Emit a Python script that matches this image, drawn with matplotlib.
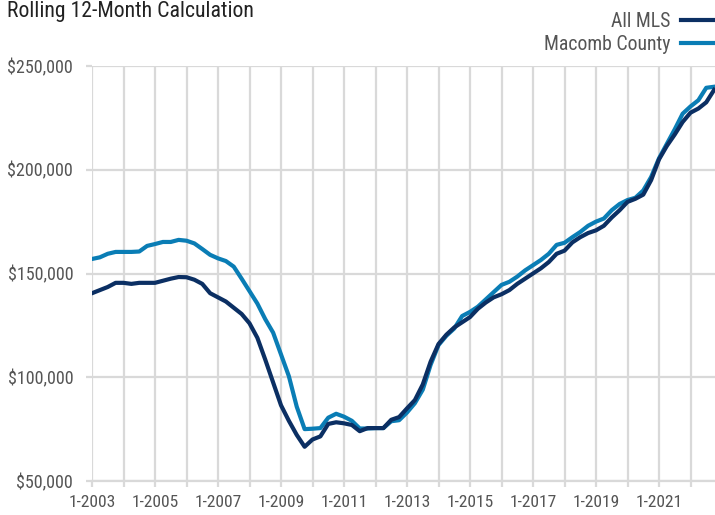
import numpy as np
import matplotlib
matplotlib.use("Agg")
from matplotlib import pyplot as plt
from matplotlib.ticker import FuncFormatter, MultipleLocator

# quarterly readings, thousands of dollars, Jan 2003 .. Oct 2022
start_year = 2003
all_mls = [
    140.5, 142, 143.5, 145.5, 145.5, 145, 145.5, 145.5,
    145.5, 146.5, 147.5, 148.3, 148.2, 147, 145, 140.5,
    138.5, 136.5, 133.5, 130.5, 126, 119, 108.5, 97.5,
    86.5, 79, 72.2, 66.5, 70, 71.5, 77.5, 78.3,
    77.8, 77, 74, 75.5, 75.5, 75.5, 79.5, 80.8,
    85, 89, 96.5, 107.5, 116, 120.5, 124, 126.5,
    129, 133, 136, 138.5, 140, 142, 145, 147.5,
    150, 152.5, 155.5, 159.5, 161, 165, 167.5, 169.5,
    170.8, 173, 177, 180.5, 184.5, 186, 188, 195,
    205, 211.5, 217, 223, 227.5, 229.5, 232.5, 238.5,
]
macomb = [
    157, 157.8, 159.5, 160.4, 160.4, 160.4, 160.6, 163.3,
    164.2, 165.2, 165.2, 166.2, 165.8, 164.5, 161.8, 159,
    157.3, 156, 153.3, 147.5, 141.5, 135.5, 128, 121.5,
    111, 100.5, 85.8, 75, 75.2, 75.5, 80.5, 82.4,
    81, 79, 75.3, 75.3, 75.5, 75.5, 78.8, 79.3,
    83, 87.5, 94, 106, 115.5, 120, 123.5, 129.5,
    131.5, 134, 137.5, 141, 144.5, 146, 148.5, 151.5,
    154, 156.5, 159.5, 163.8, 164.8, 167.5, 170, 173,
    175, 176.5, 180.5, 183.5, 185.4, 186.5, 190, 196.5,
    205.5, 212.5, 219.5, 227, 230.5, 233.5, 239.5, 240,
]
tick_years = list(range(2003, 2023))

dates = start_year + np.arange(len(all_mls)) * 0.25

plt.rcParams['font.family'] = ['Roboto Condensed', 'Roboto', 'DejaVu Sans']

fig = plt.figure(figsize=(7.15, 5.15), dpi=100)
ax = fig.add_axes([92 / 715, 1 - 481 / 515, 1 - 92 / 715, (481 - 66) / 515])

grid_col = "#d9d9d9"
dark = "#0b2f63"
light = "#0a7db5"

ax.plot(dates, np.array(all_mls) * 1000, color=dark, lw=3, label="All MLS", zorder=3)
ax.plot(dates, np.array(macomb) * 1000, color=light, lw=3, label="Macomb County", zorder=2)

ax.set_xlim(2003, 2003 + (715 - 92) / 31.5)
ax.set_ylim(50000, 250000)
ax.set_xticks(tick_years)
ax.set_xticklabels([f"1-{y}" if (y - 2003) % 2 == 0 else "" for y in tick_years])
ax.yaxis.set_major_locator(MultipleLocator(50000))
ax.yaxis.set_major_formatter(FuncFormatter(lambda v, p: f"${v:,.0f}"))

ax.grid(True, color=grid_col, lw=1.6, zorder=0)
ax.set_axisbelow(True)
for s in ["top", "right", "left"]:
    ax.spines[s].set_visible(False)
ax.spines["bottom"].set_color(grid_col)
ax.spines["bottom"].set_linewidth(1.6)
ax.tick_params(axis="x", length=4.5, width=1.6, color=grid_col, labelsize=12.6,
               labelcolor="#555555", pad=5.5)
ax.tick_params(axis="y", length=4.5, width=1.6, color=grid_col, labelsize=13,
               labelcolor="#555555", pad=9)

fig.text(7 / 715, 1 - 12 / 515, "Rolling 12-Month Calculation", fontsize=15.7,
         color="#222222", va="center", ha="left")

ax.legend(loc="lower right", bbox_to_anchor=(1.0, 1.025), frameon=False,
          markerfirst=False, fontsize=14.2, handlelength=1.6, handletextpad=0.55,
          labelspacing=0.2, borderaxespad=0, borderpad=0.1, labelcolor="#555555")

fig.savefig("out.png", dpi=100)
